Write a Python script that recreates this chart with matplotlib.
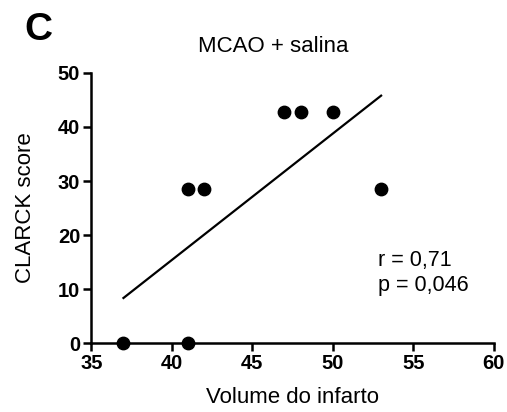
import numpy as np
import matplotlib
matplotlib.use("Agg")
import matplotlib.pyplot as plt

# Données
volume = [37, 41, 41, 42, 47, 48, 50, 53]
clarck = [0, 0, 28.57, 28.57, 42.86, 42.86, 42.86, 28.57]
x_ticks = [35, 40, 45, 50, 55, 60]
y_ticks = [0, 10, 20, 30, 40, 50]

plt.rcParams["font.family"] = ["Liberation Sans", "DejaVu Sans"]

fig = plt.figure(figsize=(5.07, 4.12), dpi=100)
ax = fig.add_axes([0.18, 0.167, 0.794, 0.656])

ax.scatter(volume, clarck, s=80, color="black", zorder=5, clip_on=False)

# Régression linéaire
slope, intercept = np.polyfit(volume, clarck, 1)
xs = np.array([min(volume), max(volume)])
ax.plot(xs, slope * xs + intercept, color="black", linewidth=1.6)

ax.set_xlim(35, 60)
ax.set_ylim(0, 50)
ax.set_xticks(x_ticks)
ax.set_yticks(y_ticks)
for lab in ax.get_xticklabels() + ax.get_yticklabels():
    lab.set_fontweight("bold")
ax.tick_params(direction="out", length=6, width=1.8, labelsize=14.5, pad=2)

for side in ("top", "right"):
    ax.spines[side].set_visible(False)
for side in ("left", "bottom"):
    ax.spines[side].set_linewidth(1.8)

ax.set_xlabel("Volume do infarto", fontsize=16, labelpad=10)
ax.set_ylabel("CLARCK score", fontsize=16, labelpad=16)

# Titre légèrement décalé à gauche comme dans l'original
fig.text(0.539, 0.874, "MCAO + salina", fontsize=16, ha="center", va="baseline")

ax.text(52.8, 13, "r = 0,71\np = 0,046", fontsize=15.5, va="center", ha="left",
        linespacing=1.2)

fig.text(0.048, 0.972, "C", fontsize=28, fontweight="bold", va="top", ha="left")

fig.savefig("out.png", dpi=100)
